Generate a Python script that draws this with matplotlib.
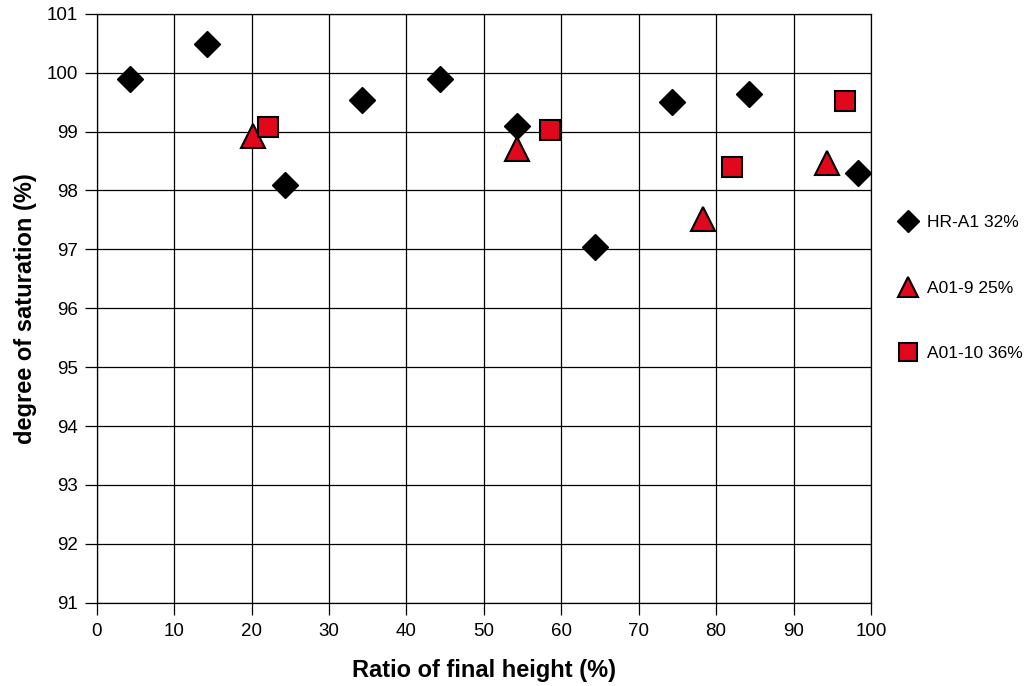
import matplotlib

matplotlib.use("Agg")
import matplotlib.pyplot as plt

plt.rcParams["font.family"] = ["Liberation Sans", "DejaVu Sans"]

# HR-A1 32%
hr_x = [4.3, 14.2, 24.3, 34.3, 44.3, 54.3, 64.3, 74.3, 84.3, 98.3]
hr_y = [99.89, 100.49, 98.10, 99.53, 99.89, 99.10, 97.04, 99.50, 99.64, 98.29]
# A01-9 25%
a9_x = [20.2, 54.3, 78.3, 94.3]
a9_y = [98.92, 98.70, 97.51, 98.47]
# A01-10 36%
a10_x = [22.1, 58.5, 82.1, 96.6]
a10_y = [99.07, 99.03, 98.39, 99.52]

RED = "#E1081B"

fig = plt.figure(figsize=(10.36, 6.86), dpi=100)
ax = fig.add_axes([0.0933, 0.1214, 0.8407 - 0.0933, 0.980 - 0.1214])

ax.plot(hr_x, hr_y, "D", ms=13, color="black", mec="black", mew=1,
        label="HR-A1 32%", zorder=3)
ax.plot(a9_x, a9_y, "^", ms=17, color=RED, mec="black", mew=1.5,
        label="A01-9 25%", zorder=3)
ax.plot(a10_x, a10_y, "s", ms=14.5, color=RED, mec="black", mew=1.5,
        label="A01-10 36%", zorder=3)

ax.set_xlim(0, 100)
ax.set_ylim(91, 101)
ax.set_xticks(range(0, 101, 10))
ax.set_yticks(range(91, 102))
ax.grid(True, color="black", linewidth=0.9)
ax.set_axisbelow(True)
ax.tick_params(axis="both", labelsize=13.5, length=8.5, width=0.9, direction="out")
ax.tick_params(axis="x", pad=6)
ax.tick_params(axis="y", pad=5)
for s in ax.spines.values():
    s.set_linewidth(0.9)

ax.set_xlabel("Ratio of final height (%)", fontsize=17, fontweight="bold", labelpad=14)
ax.set_ylabel("degree of saturation (%)", fontsize=17, fontweight="bold", labelpad=7)

fig.legend(loc="center left", bbox_to_anchor=(0.853, 0.580), frameon=False,
           fontsize=12.5, markerscale=0.85, handlelength=1.0, handletextpad=0.6,
           labelspacing=2.9)

fig.savefig("out.png", dpi=100)
